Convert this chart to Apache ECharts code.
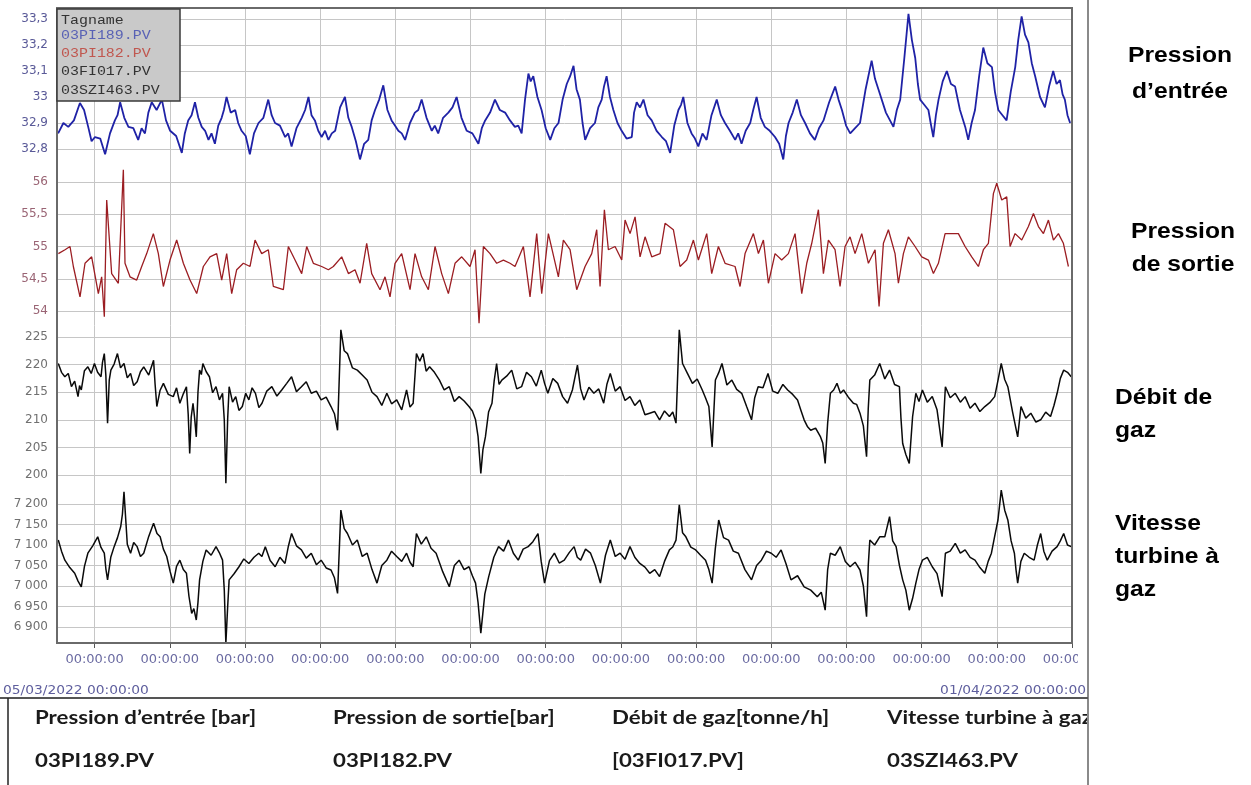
<!DOCTYPE html>
<html><head><meta charset="utf-8">
<script src="https://cdn.jsdelivr.net/npm/echarts@6/dist/echarts.min.js"></script>
<style>html,body{margin:0;padding:0;background:#fff}#c{width:1251px;height:785px}</style>
</head><body><div id="c"></div><script>
// ---------- DATA (day offset from 05/03/2022 00:00, value) ----------
const tagNames = ['Tagname', '03PI189.PV', '03PI182.PV', '03FI017.PV', '03SZI463.PV'];
const panelNames = [['Pression', 'd’entrée'], ['Pression', 'de sortie'], ['Débit de', 'gaz'], ['Vitesse', 'turbine à', 'gaz']];
const tableHeaders = ['Pression d’entrée [bar]', 'Pression de sortie[bar]', 'Débit de gaz[tonne/h]', 'Vitesse turbine à gaz'];
const tableTags = ['03PI189.PV', '03PI182.PV', '[03FI017.PV]', '03SZI463.PV'];
const startLabel = '05/03/2022 00:00:00';
const endLabel = '01/04/2022 00:00:00';
const xTickDays = [1, 3, 5, 7, 9, 11, 13, 15, 17, 19, 21, 23, 25, 27];
const xTickLabel = '00:00:00';
const yRanges = [[32.8, 33.3, 0.1], [54, 56, 0.5], [200, 225, 5], [6900, 7200, 50]];

const pressionEntree = [[0.03,32.86],[0.17,32.90],[0.30,32.885],[0.45,32.91],[0.61,32.977],[0.72,32.95],[0.83,32.885],[0.92,32.83],[1.01,32.846],[1.15,32.84],[1.28,32.78],[1.41,32.86],[1.54,32.91],[1.61,32.93],[1.68,32.98],[1.79,32.92],[1.90,32.885],[2.03,32.88],[2.16,32.835],[2.25,32.88],[2.34,32.86],[2.43,32.94],[2.52,32.98],[2.65,32.95],[2.79,32.99],[2.90,32.91],[3.01,32.87],[3.17,32.85],[3.32,32.785],[3.40,32.86],[3.49,32.91],[3.58,32.93],[3.67,32.98],[3.76,32.92],[3.85,32.885],[3.94,32.87],[4.03,32.835],[4.11,32.86],[4.20,32.82],[4.29,32.89],[4.38,32.92],[4.44,32.95],[4.51,33.0],[4.62,32.94],[4.74,32.95],[4.82,32.90],[4.91,32.87],[5.02,32.85],[5.13,32.78],[5.24,32.86],[5.36,32.9],[5.49,32.92],[5.62,32.99],[5.71,32.93],[5.80,32.9],[5.93,32.89],[6.07,32.846],[6.15,32.86],[6.24,32.81],[6.37,32.88],[6.51,32.92],[6.60,32.95],[6.69,33.0],[6.77,32.93],[6.86,32.91],[6.95,32.87],[7.04,32.846],[7.13,32.87],[7.22,32.835],[7.31,32.86],[7.40,32.87],[7.53,32.96],[7.66,33.0],[7.75,32.92],[7.84,32.885],[7.95,32.83],[8.06,32.76],[8.17,32.82],[8.28,32.835],[8.37,32.91],[8.46,32.95],[8.57,32.99],[8.68,33.045],[8.79,32.95],[8.90,32.91],[8.99,32.89],[9.08,32.87],[9.17,32.86],[9.26,32.835],[9.39,32.90],[9.52,32.94],[9.61,32.95],[9.70,32.99],[9.83,32.92],[9.97,32.87],[10.05,32.89],[10.14,32.86],[10.27,32.92],[10.41,32.94],[10.52,32.96],[10.63,33.0],[10.76,32.92],[10.90,32.87],[11.05,32.86],[11.21,32.82],[11.30,32.88],[11.39,32.91],[11.52,32.94],[11.65,32.99],[11.78,32.95],[11.92,32.94],[12.05,32.91],[12.18,32.885],[12.27,32.89],[12.36,32.86],[12.45,32.99],[12.54,33.09],[12.60,33.06],[12.67,33.08],[12.78,33.00],[12.89,32.95],[13.00,32.88],[13.12,32.835],[13.23,32.88],[13.34,32.9],[13.45,32.99],[13.56,33.05],[13.65,33.08],[13.74,33.12],[13.82,33.03],[13.91,32.99],[13.98,32.90],[14.05,32.835],[14.18,32.88],[14.31,32.9],[14.40,32.96],[14.49,32.99],[14.55,33.04],[14.62,33.08],[14.71,33.00],[14.80,32.95],[14.91,32.90],[15.02,32.87],[15.15,32.84],[15.29,32.846],[15.35,32.94],[15.42,32.98],[15.51,32.96],[15.60,32.99],[15.71,32.93],[15.82,32.91],[15.95,32.87],[16.09,32.846],[16.20,32.83],[16.31,32.785],[16.42,32.89],[16.53,32.95],[16.60,32.97],[16.66,33.0],[16.77,32.90],[16.88,32.86],[16.97,32.84],[17.06,32.81],[17.17,32.86],[17.28,32.835],[17.41,32.93],[17.55,32.99],[17.66,32.93],[17.77,32.9],[17.90,32.87],[18.04,32.835],[18.12,32.86],[18.21,32.82],[18.32,32.87],[18.44,32.9],[18.52,32.95],[18.61,33.0],[18.72,32.92],[18.83,32.885],[18.96,32.87],[19.10,32.846],[19.21,32.82],[19.32,32.76],[19.39,32.85],[19.46,32.9],[19.57,32.94],[19.68,32.99],[19.79,32.93],[19.90,32.9],[20.03,32.86],[20.16,32.835],[20.27,32.88],[20.39,32.91],[20.54,32.98],[20.70,33.04],[20.79,32.99],[20.88,32.95],[20.99,32.89],[21.10,32.86],[21.23,32.88],[21.36,32.9],[21.51,33.03],[21.67,33.14],[21.76,33.07],[21.85,33.03],[22.05,32.94],[22.25,32.885],[22.34,32.95],[22.43,32.99],[22.54,33.15],[22.65,33.32],[22.74,33.22],[22.83,33.15],[22.90,33.05],[22.96,32.99],[23.07,32.97],[23.18,32.95],[23.24,32.90],[23.31,32.846],[23.38,32.93],[23.45,32.99],[23.56,33.06],[23.67,33.1],[23.78,33.05],[23.89,33.04],[24.02,32.95],[24.16,32.885],[24.20,32.86],[24.24,32.835],[24.33,32.90],[24.42,32.95],[24.53,33.08],[24.64,33.19],[24.75,33.13],[24.87,33.115],[24.95,33.02],[25.04,32.95],[25.15,32.93],[25.26,32.91],[25.37,33.02],[25.49,33.115],[25.57,33.22],[25.66,33.31],[25.75,33.24],[25.84,33.21],[25.93,33.13],[26.02,33.08],[26.15,33.00],[26.28,32.96],[26.39,33.04],[26.50,33.1],[26.59,33.05],[26.68,33.065],[26.75,33.01],[26.81,32.99],[26.88,32.93],[26.95,32.9]];

const pressionSortie = [[0.036,54.89],[0.213,54.95],[0.346,55.00],[0.435,54.69],[0.612,54.22],[0.745,54.74],[0.922,54.84],[1.100,54.27],[1.188,54.53],[1.259,53.91],[1.322,55.72],[1.454,54.58],[1.632,54.43],[1.765,56.19],[1.809,54.74],[1.942,54.53],[2.120,54.48],[2.253,54.69],[2.386,54.89],[2.563,55.20],[2.696,54.89],[2.829,54.38],[3.006,54.79],[3.184,55.10],[3.361,54.74],[3.538,54.48],[3.716,54.27],[3.893,54.69],[4.070,54.84],[4.248,54.89],[4.381,54.48],[4.514,54.89],[4.647,54.27],[4.780,54.64],[4.957,54.74],[5.135,54.69],[5.268,55.10],[5.445,54.89],[5.622,54.95],[5.755,54.38],[6.021,54.33],[6.154,55.00],[6.332,54.79],[6.509,54.58],[6.642,55.00],[6.819,54.74],[7.041,54.69],[7.219,54.64],[7.351,54.69],[7.573,54.84],[7.751,54.58],[7.928,54.64],[8.061,54.43],[8.238,55.05],[8.371,54.58],[8.593,54.33],[8.726,54.53],[8.859,54.22],[8.992,54.74],[9.169,54.89],[9.391,54.33],[9.524,54.89],[9.701,54.53],[9.879,54.33],[10.056,55.00],[10.233,54.58],[10.411,54.27],[10.588,54.74],[10.766,54.84],[10.987,54.69],[11.120,54.95],[11.227,53.81],[11.342,55.00],[11.519,54.89],[11.697,54.74],[11.874,54.79],[12.051,54.74],[12.184,54.69],[12.406,55.00],[12.583,54.22],[12.761,55.20],[12.894,54.27],[13.071,55.20],[13.337,54.53],[13.470,55.10],[13.648,54.95],[13.825,54.33],[14.047,54.69],[14.224,54.89],[14.357,55.26],[14.446,54.38],[14.561,55.57],[14.667,54.95],[14.845,55.00],[15.022,54.79],[15.111,55.41],[15.244,55.20],[15.377,55.46],[15.510,54.84],[15.643,55.15],[15.820,54.84],[16.042,54.89],[16.175,55.36],[16.396,55.26],[16.574,54.69],[16.751,54.79],[16.929,55.10],[17.062,54.79],[17.283,55.20],[17.416,54.58],[17.594,55.00],[17.771,54.74],[18.037,54.69],[18.170,54.38],[18.303,54.89],[18.525,55.20],[18.658,54.89],[18.791,55.10],[18.924,54.43],[19.101,54.89],[19.278,54.79],[19.456,54.89],[19.633,55.20],[19.811,54.27],[19.944,54.74],[20.077,55.05],[20.254,55.57],[20.387,54.58],[20.520,55.10],[20.697,54.95],[20.830,54.38],[20.963,55.00],[21.096,55.15],[21.229,54.89],[21.407,55.20],[21.584,54.74],[21.761,54.95],[21.868,54.07],[21.983,55.05],[22.116,55.26],[22.293,54.89],[22.382,54.43],[22.515,54.89],[22.648,55.15],[22.826,55.00],[23.003,54.84],[23.180,54.79],[23.313,54.58],[23.446,54.74],[23.624,55.20],[23.801,55.20],[23.978,55.20],[24.156,55.00],[24.333,54.84],[24.510,54.69],[24.643,54.95],[24.776,55.05],[24.909,55.82],[24.998,55.98],[25.131,55.72],[25.264,55.77],[25.353,55.00],[25.486,55.20],[25.663,55.10],[25.840,55.31],[25.974,55.51],[26.107,55.31],[26.240,55.20],[26.373,55.41],[26.506,55.10],[26.639,55.20],[26.771,55.05],[26.904,54.69]];

const debitGaz = [[0.034,220.2],[0.12,218.6],[0.209,217.8],[0.30,218.4],[0.384,216.0],[0.47,217.0],[0.559,214.2],[0.60,216.2],[0.646,215.4],[0.73,218.9],[0.821,219.6],[0.91,218.4],[0.996,220.2],[1.08,218.6],[1.171,217.8],[1.21,220.4],[1.258,222.0],[1.30,218.0],[1.345,209.4],[1.39,217.2],[1.433,219.0],[1.52,220.1],[1.608,222.0],[1.69,219.4],[1.782,220.2],[1.87,217.6],[1.957,218.4],[2.04,216.2],[2.132,216.9],[2.22,218.7],[2.307,219.6],[2.44,218.1],[2.569,220.8],[2.61,216.4],[2.656,212.4],[2.74,215.3],[2.831,216.6],[2.96,214.6],[3.093,214.2],[3.18,215.8],[3.268,213.0],[3.36,214.7],[3.443,216.0],[3.49,211.0],[3.530,203.9],[3.57,210.5],[3.618,213.0],[3.66,210.4],[3.705,206.9],[3.75,215.0],[3.793,219.0],[3.84,218.2],[3.880,220.2],[3.97,218.7],[4.055,217.8],[4.14,214.9],[4.230,216.0],[4.32,213.6],[4.404,214.8],[4.45,210.0],[4.492,198.5],[4.54,210.2],[4.579,216.0],[4.67,213.2],[4.754,214.2],[4.84,211.7],[4.929,212.4],[5.02,214.8],[5.104,213.6],[5.19,215.8],[5.279,214.8],[5.37,212.2],[5.453,213.0],[5.58,215.2],[5.715,216.0],[5.85,214.3],[5.978,215.4],[6.11,216.6],[6.240,217.8],[6.37,215.1],[6.502,216.0],[6.63,216.9],[6.764,214.8],[6.90,215.2],[7.026,213.6],[7.16,214.1],[7.289,212.4],[7.38,211.1],[7.463,208.1],[7.551,226.3],[7.64,222.5],[7.726,222.0],[7.86,219.4],[7.988,219.0],[8.12,218.1],[8.250,217.2],[8.38,215.0],[8.512,214.2],[8.64,212.6],[8.774,214.8],[8.90,212.9],[9.037,213.6],[9.17,211.8],[9.299,215.4],[9.39,212.3],[9.474,213.0],[9.561,222.0],[9.65,220.6],[9.736,222.0],[9.82,218.8],[9.911,219.6],[10.04,218.6],[10.173,217.2],[10.30,215.4],[10.435,216.0],[10.57,213.3],[10.697,214.2],[10.83,213.4],[10.959,212.4],[11.05,211.6],[11.134,210.0],[11.20,207.0],[11.274,200.3],[11.33,204.6],[11.396,206.9],[11.48,211.4],[11.571,213.0],[11.63,217.1],[11.694,220.2],[11.76,216.4],[11.833,217.2],[11.96,217.9],[12.096,219.0],[12.23,215.6],[12.358,216.0],[12.49,218.6],[12.620,217.8],[12.75,216.1],[12.882,219.0],[12.97,216.6],[13.057,214.8],[13.19,217.5],[13.319,216.6],[13.45,214.2],[13.581,213.0],[13.71,215.4],[13.844,219.9],[13.93,215.6],[14.018,213.6],[14.15,215.9],[14.281,214.8],[14.41,215.6],[14.543,213.0],[14.63,216.5],[14.718,218.4],[14.85,215.2],[14.980,216.0],[15.11,213.5],[15.242,214.2],[15.37,212.6],[15.504,213.6],[15.64,210.9],[15.766,211.2],[15.90,211.5],[16.029,210.0],[16.16,211.6],[16.291,210.6],[16.38,211.4],[16.466,209.4],[16.553,226.3],[16.640,220.2],[16.77,218.4],[16.903,216.6],[17.03,217.4],[17.165,215.4],[17.25,214.0],[17.340,212.4],[17.427,205.1],[17.514,217.2],[17.60,218.5],[17.689,220.2],[17.82,216.3],[17.951,217.2],[18.08,215.5],[18.214,214.8],[18.35,212.3],[18.476,210.0],[18.56,214.0],[18.651,216.0],[18.78,215.8],[18.913,218.4],[19.04,215.2],[19.175,214.8],[19.31,216.4],[19.437,215.4],[19.57,214.6],[19.699,213.6],[19.79,211.7],[19.874,210.0],[19.96,208.8],[20.049,208.1],[20.18,208.5],[20.311,206.9],[20.37,205.8],[20.434,202.1],[20.50,209.4],[20.573,214.8],[20.66,215.4],[20.748,216.6],[20.84,214.8],[20.923,215.4],[21.05,214.1],[21.185,213.0],[21.27,212.8],[21.360,211.2],[21.45,208.9],[21.535,203.3],[21.58,212.0],[21.622,217.2],[21.75,218.1],[21.885,220.2],[22.02,217.4],[22.147,219.0],[22.28,216.4],[22.409,216.0],[22.45,210.3],[22.496,205.7],[22.58,203.7],[22.671,202.1],[22.76,210.6],[22.846,214.8],[22.93,213.3],[23.021,215.4],[23.15,213.2],[23.283,214.2],[23.41,211.8],[23.545,205.1],[23.632,216.0],[23.76,214.0],[23.895,214.8],[24.03,213.2],[24.157,214.2],[24.29,212.1],[24.419,213.0],[24.55,211.5],[24.681,212.4],[24.81,213.1],[24.943,214.2],[25.03,217.1],[25.118,220.2],[25.21,217.3],[25.293,216.0],[25.42,211.4],[25.555,206.9],[25.643,212.4],[25.77,210.3],[25.905,211.2],[26.04,209.6],[26.167,210.0],[26.30,211.4],[26.429,210.6],[26.52,212.6],[26.604,214.8],[26.69,217.5],[26.779,219.0],[26.88,218.6],[26.98,217.8]];

const vitesseTurbine = [[0.034,7112],[0.12,7085],[0.209,7063],[0.34,7045],[0.471,7031],[0.56,7012],[0.646,6998],[0.73,7048],[0.821,7080],[0.95,7098],[1.083,7120],[1.17,7094],[1.258,7080],[1.30,7042],[1.345,7015],[1.43,7070],[1.520,7096],[1.61,7118],[1.695,7145],[1.74,7175],[1.782,7230],[1.87,7102],[1.957,7080],[2.04,7106],[2.132,7096],[2.22,7072],[2.307,7080],[2.44,7121],[2.569,7153],[2.66,7128],[2.744,7120],[2.83,7090],[2.919,7072],[3.01,7035],[3.093,7007],[3.18,7048],[3.268,7063],[3.36,7040],[3.443,7031],[3.51,6975],[3.583,6933],[3.64,6945],[3.705,6917],[3.75,6960],[3.793,7015],[3.88,7060],[3.967,7088],[4.10,7075],[4.230,7096],[4.32,7081],[4.404,7063],[4.45,6990],[4.492,6860],[4.54,6950],[4.579,7015],[4.71,7030],[4.841,7047],[4.97,7066],[5.104,7055],[5.24,7070],[5.366,7080],[5.45,7072],[5.541,7096],[5.67,7062],[5.803,7047],[5.93,7070],[6.065,7055],[6.15,7095],[6.240,7128],[6.37,7098],[6.502,7088],[6.63,7068],[6.764,7080],[6.90,7052],[7.026,7063],[7.16,7044],[7.289,7039],[7.38,7020],[7.463,6982],[7.551,7185],[7.64,7140],[7.726,7128],[7.86,7100],[7.988,7112],[8.12,7072],[8.250,7080],[8.38,7040],[8.512,7007],[8.64,7050],[8.774,7063],[8.90,7085],[9.037,7072],[9.17,7060],[9.299,7080],[9.39,7058],[9.474,7047],[9.561,7128],[9.69,7102],[9.823,7120],[9.95,7092],[10.085,7080],[10.26,7035],[10.435,6998],[10.57,7050],[10.697,7063],[10.83,7040],[10.959,7047],[11.05,7025],[11.134,7007],[11.20,6960],[11.274,6885],[11.38,6980],[11.484,7023],[11.62,7070],[11.746,7096],[11.88,7085],[12.008,7112],[12.14,7080],[12.270,7063],[12.40,7090],[12.533,7096],[12.66,7108],[12.795,7128],[12.88,7060],[12.970,7007],[13.10,7062],[13.232,7080],[13.36,7056],[13.494,7063],[13.63,7082],[13.756,7096],[13.84,7070],[13.931,7063],[14.06,7090],[14.193,7080],[14.32,7050],[14.455,7007],[14.59,7075],[14.718,7112],[14.85,7072],[14.980,7080],[15.11,7065],[15.242,7096],[15.37,7070],[15.504,7055],[15.64,7046],[15.766,7031],[15.90,7040],[16.029,7023],[16.16,7060],[16.291,7088],[16.38,7095],[16.466,7112],[16.553,7198],[16.640,7130],[16.728,7120],[16.86,7095],[16.990,7088],[17.12,7075],[17.252,7063],[17.34,7040],[17.427,7007],[17.51,7090],[17.602,7161],[17.73,7118],[17.864,7112],[17.99,7085],[18.126,7080],[18.30,7040],[18.476,7015],[18.61,7050],[18.738,7063],[18.87,7085],[19.000,7080],[19.13,7070],[19.262,7088],[19.39,7055],[19.525,7015],[19.70,7025],[19.874,6998],[20.05,6990],[20.224,6974],[20.33,6985],[20.434,6941],[20.50,7040],[20.573,7080],[20.70,7075],[20.836,7096],[20.97,7060],[21.098,7047],[21.23,7058],[21.360,7039],[21.45,7000],[21.535,6925],[21.58,7050],[21.622,7112],[21.75,7100],[21.885,7120],[22.02,7120],[22.147,7169],[22.23,7110],[22.321,7096],[22.41,7050],[22.496,7015],[22.58,6990],[22.671,6941],[22.76,6970],[22.846,7007],[22.93,7040],[23.021,7063],[23.15,7070],[23.283,7047],[23.41,7030],[23.545,6974],[23.632,7080],[23.76,7085],[23.895,7104],[24.03,7080],[24.157,7088],[24.29,7070],[24.419,7063],[24.55,7045],[24.681,7031],[24.77,7060],[24.856,7080],[24.94,7120],[25.031,7161],[25.118,7234],[25.21,7185],[25.293,7161],[25.38,7110],[25.468,7080],[25.51,7040],[25.555,7007],[25.64,7060],[25.730,7080],[25.86,7070],[25.992,7063],[26.08,7100],[26.167,7128],[26.25,7085],[26.342,7063],[26.47,7085],[26.604,7096],[26.69,7110],[26.779,7128],[26.88,7100],[26.98,7096]];

const seriesData = [pressionEntree, pressionSortie, debitGaz, vitesseTurbine];

// ---------- LAYOUT / STYLE ----------
const PL = 57, PT = 8, PW = 1015, PH = 635;
const panelBoxes = [{ top: 19, height: 130 }, { top: 182, height: 129 }, { top: 337, height: 138 }, { top: 504, height: 123 }];
const lineColors = ['#1f22a6', '#9b1d22', '#0a0a0a', '#0a0a0a'];
const lineWidths = [1.8, 1.3, 1.5, 1.5];
const labelColors = ['#5a5a98', '#9a6474', '#707070', '#707070'];
const legendColors = ['#333333', '#5962b5', '#c0574f', '#333333', '#333333'];

function fmt(i, v) {
  if (i === 3) { const t = Math.floor(v / 1000); return t + ' ' + String(Math.round(v - t * 1000)).padStart(3, '0'); }
  return String(Math.round(v * 10) / 10).replace('.', ',');
}

const grids = [{ left: PL, top: PT, width: PW, height: PH, outerBoundsMode: 'none' }];
const xAxes = [{
  gridIndex: 0, type: 'value', min: 0, max: 27,
  axisLine: { show: false },
  axisTick: { show: true, customValues: xTickDays, length: 5, lineStyle: { color: '#555' } },
  axisLabel: { customValues: xTickDays, formatter: () => xTickLabel, color: '#6b6ba2', fontSize: 13, fontFamily: 'DejaVu Sans', margin: 10 },
  splitLine: { show: true, lineStyle: { color: '#c6c6c6', width: 1 } }
}];
const yAxes = [{ gridIndex: 0, type: 'value', min: 0, max: 1, show: false, splitLine: { show: false } }];
const series = [];
panelBoxes.forEach((b, i) => {
  grids.push({ left: PL, width: PW, top: b.top, height: b.height, outerBoundsMode: 'none' });
  xAxes.push({ gridIndex: i + 1, type: 'value', min: 0, max: 27, show: false, splitLine: { show: false } });
  yAxes.push({
    gridIndex: i + 1, type: 'value', min: yRanges[i][0], max: yRanges[i][1], interval: yRanges[i][2],
    axisLine: { show: false }, axisTick: { show: false },
    axisLabel: { color: labelColors[i], fontSize: 12, fontFamily: 'DejaVu Sans', margin: 9, showMinLabel: true, showMaxLabel: true, formatter: v => fmt(i, v) },
    splitLine: { show: true, lineStyle: { color: '#c6c6c6', width: 1 } }
  });
  series.push({
    type: 'line', xAxisIndex: i + 1, yAxisIndex: i + 1, data: seriesData[i],
    showSymbol: false, clip: false, silent: true,
    lineStyle: { color: lineColors[i], width: lineWidths[i] }
  });
});

const graphic = [];
graphic.push({ type: 'rect', z: 50, shape: { x: PL, y: PT, width: PW, height: PH }, style: { fill: null, stroke: '#6a6a6a', lineWidth: 2 } });
graphic.push({ type: 'rect', z: 60, shape: { x: 57, y: 9, width: 123, height: 92 }, style: { fill: '#c9c9c9', stroke: '#3a3a3a', lineWidth: 1.5 } });
const legY = [20.5, 36, 54, 72, 90.5];
tagNames.forEach((t, i) => graphic.push({ type: 'text', z: 61, x: 61, y: legY[i], scaleX: 1.15,
  style: { text: t, fill: legendColors[i], font: '13px "Liberation Mono"', align: 'left', verticalAlign: 'middle' } }));
graphic.push({ type: 'text', z: 61, x: 3, y: 691, scaleX: 1.15, style: { text: startLabel, fill: '#5f5f9e', font: '12px "DejaVu Sans"', align: 'left', verticalAlign: 'middle' } });
graphic.push({ type: 'text', z: 61, x: 1086, y: 691, scaleX: 1.15, style: { text: endLabel, fill: '#5f5f9e', font: '12px "DejaVu Sans"', align: 'right', verticalAlign: 'middle' } });
const nameSpecs = [
  { x: 1180, ys: [56, 92], align: 'center' },
  { x: 1183, ys: [232, 265], align: 'center' },
  { x: 1115, ys: [398, 431], align: 'left' },
  { x: 1115, ys: [524, 557, 590], align: 'left' }
];
panelNames.forEach((lines, i) => lines.forEach((t, j) => graphic.push({ type: 'text', z: 61, x: nameSpecs[i].x, y: nameSpecs[i].ys[j], scaleX: 1.12,
  style: { text: t, fill: '#000', font: 'bold 22px "Liberation Sans"', align: nameSpecs[i].align, verticalAlign: 'middle' } })));
const colX = [35, 333, 612, 887];
tableHeaders.forEach((t, i) => graphic.push({ type: 'text', z: 62, x: colX[i], y: 718, scaleX: 1.17,
  style: { text: t, fill: '#1a1a1a', font: 'bold 19px Lato', align: 'left', verticalAlign: 'middle' } }));
tableTags.forEach((t, i) => graphic.push({ type: 'text', z: 62, x: colX[i], y: 761, scaleX: 1.17,
  style: { text: t, fill: '#1a1a1a', font: 'bold 19px Lato', align: 'left', verticalAlign: 'middle' } }));
graphic.push({ type: 'rect', z: 70, shape: { x: 1089, y: 699, width: 162, height: 86 }, style: { fill: '#fff' } });
graphic.push({ type: 'rect', z: 70, shape: { x: 1078, y: 648, width: 40, height: 26 }, style: { fill: '#fff' } });
graphic.push({ type: 'line', z: 80, shape: { x1: 1088, y1: 0, x2: 1088, y2: 785 }, style: { stroke: '#8a8a8a', lineWidth: 2 } });
graphic.push({ type: 'line', z: 80, shape: { x1: 0, y1: 698, x2: 1088, y2: 698 }, style: { stroke: '#555', lineWidth: 2 } });
graphic.push({ type: 'line', z: 80, shape: { x1: 8, y1: 698, x2: 8, y2: 785 }, style: { stroke: '#222', lineWidth: 1.5 } });

const chart = echarts.init(document.getElementById('c'), null, { renderer: 'canvas' });
chart.setOption({
  animation: false,
  backgroundColor: '#fff',
  grid: grids, xAxis: xAxes, yAxis: yAxes, series: series,
  graphic: { elements: graphic }
});
</script></body></html>
